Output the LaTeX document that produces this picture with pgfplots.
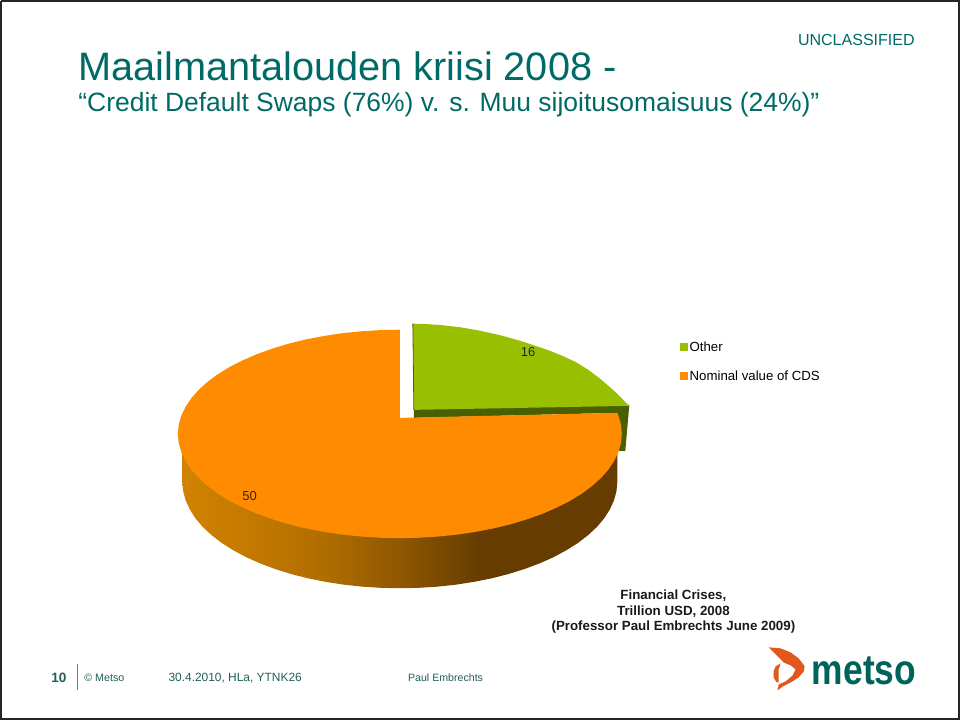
\documentclass[border=0pt]{standalone}
\usepackage{fontspec}
\setmainfont{Liberation Sans}
\usepackage{graphicx}
\usepackage{pgfplots}
\pgfplotsset{compat=1.18}
\definecolor{teal1}{HTML}{006A66}
\definecolor{footer}{HTML}{1F5F58}
\definecolor{logoorange}{HTML}{E0581C}
\definecolor{logoteal}{HTML}{00635A}
\definecolor{pieorange}{HTML}{FF8C00}
\definecolor{piegreen}{HTML}{99C000}
\definecolor{darkgreen}{HTML}{4A6000}
\definecolor{rimA}{RGB}{208,130,0}
\definecolor{rimB}{RGB}{194,120,0}
\definecolor{rimC}{RGB}{174,108,0}
\definecolor{rimD}{RGB}{143,87,0}
\definecolor{rimE}{RGB}{122,74,0}
\definecolor{rimF}{RGB}{102,60,0}
\pgfdeclarehorizontalshading{rim}{100bp}{
 color(0bp)=(rimA);
 color(25bp)=(rimA);
 color(33.9bp)=(rimB);
 color(41.9bp)=(rimC);
 color(50bp)=(rimD);
 color(54.6bp)=(rimE);
 color(59.2bp)=(rimF);
 color(100bp)=(rimF)}
\newcommand{\fs}[1]{\fontsize{#1}{#1}\selectfont}
\begin{document}
\begin{tikzpicture}
\begin{axis}[
  scale only axis, width=960pt, height=720pt,
  xmin=0, xmax=960, ymin=0, ymax=720, y dir=reverse,
  hide axis, clip=true,
  legend style={at={(axis cs:680,339.5)}, anchor=north west, draw=none, fill=none,
    font=\fs{13.2}, row sep=14pt, inner sep=0pt, cells={anchor=west}, /tikz/every even column/.append style={column sep=2pt}},
  legend cell align=left,
]
% page frame
\addplot[black!85, line width=2pt, forget plot] coordinates {(2,2)(958,2)(958,718)(2,718)(2,2)};
% dark side of the "Other" slice
\addplot[fill=darkgreen, draw=none, forget plot] coordinates {(414,409)(629,405)(625,451)(615,451)(617,413)(414,418)(414,409)};
% "Other" slice
\addplot[fill=piegreen, draw=none, forget plot] coordinates {
(413,324)(426,324.4)(440,325.3)(460,327.5)(480,331)(500,335.5)(520,341)(547,350)(562,356)(575,362)(588,370)(600,379)(615,392)(629,406)(414,410)(413,324)};
\addplot[darkgreen, line width=0.8pt, forget plot] coordinates {(413,324)(414,410)};
% side of the main slice
\addplot[draw=none, shading=rim, forget plot] coordinates {
(183,434)(183,482)(183.8,491.2)(186.3,500.4)(190.4,509.4)(196.1,518.3)(203.3,526.8)(212.1,535)(222.2,542.8)(233.8,550.1)(246.6,557)(260.5,563.2)(275.5,568.8)(291.5,573.8)(308.3,578.1)(325.8,581.6)(343.8,584.4)(362.3,586.4)(381.1,587.6)(400,588)
(418.9,587.6)(437.7,586.4)(456.2,584.4)(474.2,581.6)(491.7,578.1)(508.5,573.8)(524.5,568.8)(539.5,563.2)(553.4,557)(566.2,550.1)(577.8,542.8)(587.9,535)(596.7,526.8)(603.9,518.3)(609.6,509.4)(613.7,500.4)(616.2,491.2)(617,482)(617,434)(183,434)};
% "Nominal value of CDS" slice
\addplot[fill=pieorange, draw=none, forget plot] coordinates {
(400,418)(400,330)(380.7,330.4)(361.5,331.6)(342.7,333.5)(324.2,336.3)(306.4,339.7)(289.2,343.9)(273,348.8)(257.6,354.3)(243.4,360.5)(230.3,367.1)(218.6,374.3)(208.2,382)(199.3,390)(191.9,398.4)(186.1,407.1)(181.9,415.9)(179.3,424.9)(178.5,434)
(179.3,443.1)(181.9,452.1)(186.1,460.9)(191.9,469.6)(199.3,478)(208.2,486)(218.6,493.7)(230.3,500.9)(243.4,507.5)(257.6,513.7)(273,519.2)(289.2,524.1)(306.4,528.3)(324.2,531.7)(342.7,534.5)(361.5,536.4)(380.7,537.6)(400,538)
(419.3,537.6)(438.5,536.4)(457.3,534.5)(475.8,531.7)(493.6,528.3)(510.8,524.1)(527,519.2)(542.4,513.7)(556.6,507.5)(569.7,500.9)(581.4,493.7)(591.8,486)(600.7,478)(608.1,469.6)(613.9,460.9)(618.1,452.1)(620.7,443.1)(621.5,434)(620.7,424.9)(618.1,415.9)(617,413)(400,418)};
% orange bar in the footer
\addplot[logoorange, line width=1pt, forget plot] coordinates {(78,664)(78,690)};
% logo
\addplot[fill=logoorange, draw=none, forget plot] coordinates {
(768,647)(780,648)(790,652)(798,658)(804,666)(803,671)(798,677)(790,682)(782,686)(777,690)(778,684)(785,681)(792,675)(795,669)(790,665)(783,662)(778,657)(772,651)(768,647)};
\addplot[fill=logoorange, draw=none, forget plot] coordinates {
(780,663)(775,666)(773,671)(773,677)(776,682)(778,682)(778,675)(778,669)(780,663)};
% legend
\addlegendimage{only marks, mark=square*, mark size=3.5pt, color=piegreen}
\addlegendentry{Other}
\addlegendimage{only marks, mark=square*, mark size=3.5pt, color=pieorange}
\addlegendentry{Nominal value of CDS}
% texts
\node[anchor=west, text=teal1, inner sep=0pt] at (axis cs:79,67) {\fs{39.6}Maailmantalouden kriisi 2008 -};
\node[anchor=west, text=teal1, inner sep=0pt] at (axis cs:79,105) {\fs{26.4}“Credit Default Swaps (76\%) v. s. Muu sijoitusomaisuus (24\%)”};
\node[anchor=east, text=teal1, inner sep=0pt] at (axis cs:914,40.5) {\fs{16}UNCLASSIFIED};
\node[text=black!85, inner sep=0pt] at (axis cs:528,352) {\fs{13}16};
\node[text=black!75!pieorange, inner sep=0pt] at (axis cs:250,496) {\fs{13}50};
\node[align=center, text=black!90, inner sep=0pt] at (axis cs:673,612) {\bfseries\fs{13.3}\begin{tabular}{@{}c@{}}Financial Crises,\\[1.7pt]Trillion USD, 2008\\[1.7pt](Professor Paul Embrechts June 2009)\end{tabular}};
\node[anchor=west, text=footer, inner sep=0pt] at (axis cs:52,677.5) {\bfseries\fs{13.5}10};
\node[anchor=west, text=footer, inner sep=0pt] at (axis cs:85,677) {\fs{10.7}© Metso};
\node[anchor=west, text=footer, inner sep=0pt] at (axis cs:169,677.5) {\fs{11.9}30.4.2010, HLa, YTNK26};
\node[anchor=west, text=footer, inner sep=0pt] at (axis cs:408,677) {\fs{10.6}Paul Embrechts};
\node[anchor=west, text=logoteal, inner sep=0pt] at (axis cs:811,670) {\scalebox{1}[1.2]{\bfseries\fs{35.3}metso}};
\end{axis}
\end{tikzpicture}
\end{document}
